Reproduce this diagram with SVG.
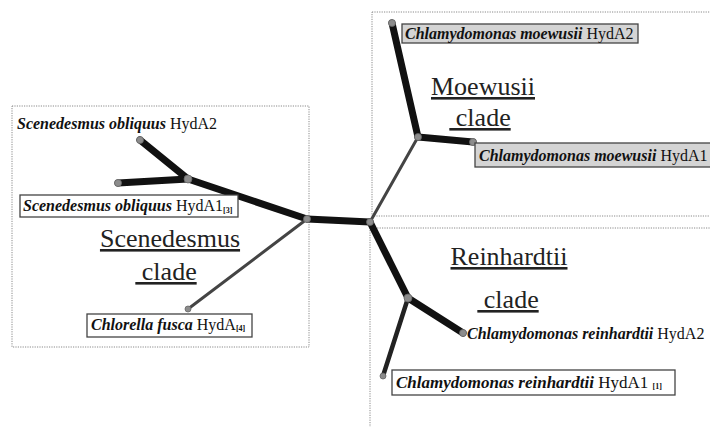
<svg xmlns="http://www.w3.org/2000/svg" width="710" height="427" viewBox="0 0 710 427">
<style>
.frame{fill:none;stroke:#8a8a8a;stroke-width:1;stroke-dasharray:1.2 1.2}
.br{stroke:#111;stroke-linecap:round;fill:none}
.thick{stroke-width:7}
.med{stroke-width:4.5;stroke:#222}
.thin{stroke-width:3;stroke:#444}
.nd{fill:#8c8c8c;stroke:#666;stroke-width:0.8}
text{font-family:'Liberation Serif','Times New Roman',serif}
.lbl{font-size:16px;fill:#111}
.sp{font-style:italic;font-weight:700}
.box{fill:#fff;stroke:#444;stroke-width:1.3}
.gbox{fill:#d4d4d4;stroke:#444;stroke-width:1.3}
.clade{font-size:26px;fill:#222;text-decoration:underline}
.ref{font-size:8px;font-weight:700}
</style>
<rect width="710" height="427" fill="#fff"/>
<g id="frames">
<rect class="frame" x="12" y="106" width="297" height="241"/>
<rect class="frame" x="372" y="12" width="340" height="204"/>
<rect class="frame" x="370" y="228" width="345" height="205"/>
</g>
<g id="connectors">
<line class="br thick" x1="307" y1="219" x2="370" y2="222"/>
<line class="br thick" x1="307" y1="219" x2="188" y2="179"/>
<line class="br thick" x1="188" y1="179" x2="140" y2="140"/>
<line class="br thick" x1="188" y1="179" x2="118" y2="183"/>
<line class="br thin" x1="307" y1="219" x2="188" y2="309"/>
<line class="br thin" x1="370" y1="222" x2="418" y2="137"/>
<line class="br thick" x1="418" y1="137" x2="392" y2="23"/>
<line class="br thick" x1="418" y1="137" x2="473" y2="142"/>
<line class="br thick" x1="370" y1="222" x2="408" y2="298"/>
<line class="br thick" x1="408" y1="298" x2="463" y2="333"/>
<line class="br med" x1="408" y1="298" x2="383" y2="376"/>
</g>
<g id="nodes-internal">
<circle class="nd" cx="307" cy="219" r="3.5"/>
<circle class="nd" cx="370" cy="222" r="3.5"/>
<circle class="nd" cx="188" cy="179" r="4"/>
<circle class="nd" cx="418" cy="137" r="3.5"/>
<circle class="nd" cx="408" cy="298" r="4"/>
<circle class="nd" cx="140" cy="140" r="3.5"/>
<circle class="nd" cx="118" cy="183" r="3.5"/>
<circle class="nd" cx="188" cy="309" r="3"/>
<circle class="nd" cx="392" cy="23" r="3.5"/>
<circle class="nd" cx="473" cy="142" r="3.5"/>
<circle class="nd" cx="463" cy="333" r="3.5"/>
<circle class="nd" cx="383" cy="376" r="3"/>
</g>
<g id="leaf-sob2">
<text class="lbl" x="17" y="129"><tspan class="sp">Scenedesmus obliquus</tspan> HydA2</text>
</g>
<g id="leaf-sob1">
<rect class="box" x="20" y="195" width="218" height="22"/>
<text class="lbl" x="23" y="211"><tspan class="sp">Scenedesmus obliquus</tspan> HydA1<tspan class="ref" dy="2">[3]</tspan></text>
</g>
<g id="leaf-cfusca">
<rect class="box" x="87" y="314" width="165" height="23"/>
<text class="lbl" x="91" y="330"><tspan class="sp">Chlorella fusca</tspan> HydA<tspan class="ref" dy="1">[4]</tspan></text>
</g>
<g id="leaf-cm2">
<rect class="gbox" x="402" y="24" width="236" height="19"/>
<text class="lbl" x="405" y="39"><tspan class="sp">Chlamydomonas moewusii</tspan> HydA2</text>
</g>
<g id="leaf-cm1">
<rect class="gbox" x="475" y="143" width="240" height="24"/>
<text class="lbl" x="479" y="161"><tspan class="sp">Chlamydomonas moewusii</tspan> HydA1</text>
</g>
<g id="leaf-cr2">
<text class="lbl" x="467" y="339"><tspan class="sp">Chlamydomonas reinhardtii</tspan> HydA2</text>
</g>
<g id="leaf-cr1">
<rect class="box" x="392" y="370" width="283" height="25"/>
<text class="lbl" x="396" y="388" style="font-size:17px"><tspan class="sp">Chlamydomonas reinhardtii</tspan> HydA1 <tspan class="ref" dy="1">[1]</tspan></text>
</g>
<g id="clade-scen">
<text class="clade" x="170" y="247" text-anchor="middle">Scenedesmus</text>
<text class="clade" x="166" y="280" text-anchor="middle" xml:space="preserve"> clade</text>
</g>
<g id="clade-moew">
<text class="clade" x="483" y="95" text-anchor="middle">Moewusii</text>
<text class="clade" x="480" y="126" text-anchor="middle" xml:space="preserve"> clade</text>
</g>
<g id="clade-rein">
<text class="clade" x="509" y="265" text-anchor="middle">Reinhardtii</text>
<text class="clade" x="508" y="308" text-anchor="middle" xml:space="preserve"> clade</text>
</g>
</svg>
